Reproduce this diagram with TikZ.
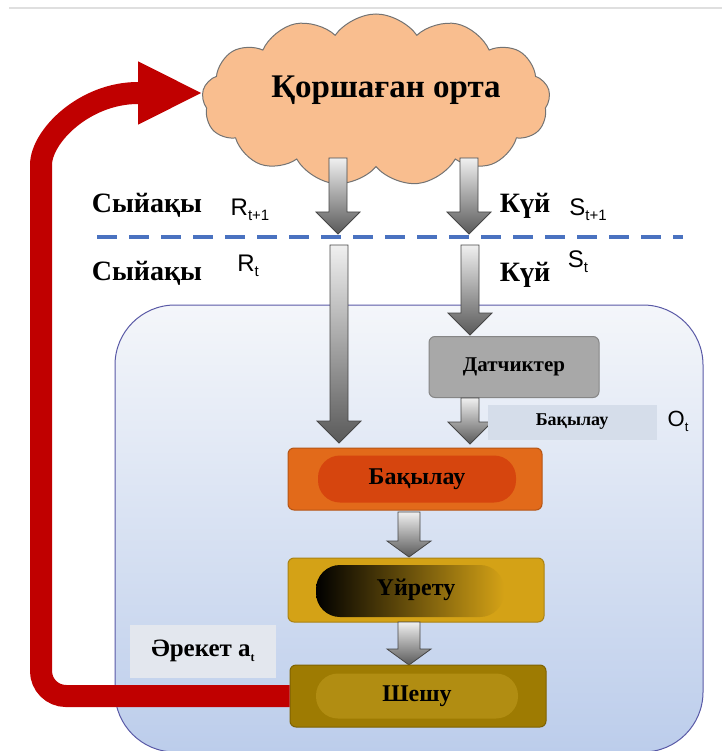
\documentclass[tikz,border=0pt]{standalone}
\usepackage{fontspec}
\setmainfont{Liberation Serif}
\newfontfamily\sansf{Liberation Sans}
\usetikzlibrary{shapes.symbols,arrows.meta}
\definecolor{cloudfill}{HTML}{F9BE8F}
\definecolor{dashblue}{HTML}{4A72C0}
\definecolor{actred}{HTML}{C00000}
\definecolor{sensfill}{HTML}{A8A8A8}
\definecolor{obsfill}{HTML}{D5DDEA}
\definecolor{actfill}{HTML}{E3E7EE}
\definecolor{bakouter}{HTML}{E26A1A}
\definecolor{bakinner}{HTML}{D6450E}
\definecolor{uyrouter}{HTML}{D4A216}
\definecolor{sheouter}{HTML}{9E7B02}
\definecolor{sheinner}{HTML}{B18D12}
\definecolor{agenttop}{HTML}{F4F6FA}
\definecolor{agentbot}{HTML}{BCCDEB}
\newcommand{\fsz}[1]{\fontsize{#1}{#1}\selectfont}
\newcommand{\sym}[2]{{\sansf\fsz{24}#1\raisebox{-5pt}{\fsz{15}#2}}}
% block arrow pointing down: x, top, tip, shaft half, head half, head length
\newcommand{\blockdown}[6]{%
  \shade[blockarr] ({#1-#4},#2) -- ({#1+#4},#2) -- ({#1+#4},{#3-#6}) -- ({#1+#5},{#3-#6})
    -- (#1,#3) -- ({#1-#5},{#3-#6}) -- ({#1-#4},{#3-#6}) -- cycle;}
\begin{document}
\begin{tikzpicture}[x=1pt,y=-1pt,
  blockarr/.style={top color=gray!12,bottom color=gray!70!black,draw=gray!55!black,line width=.8},
  box/.style={rounded corners=6,draw=#1!80!black,fill=#1,line width=1},
  pill/.style={rounded corners=22,fill=#1},
  word/.style={font=\bfseries\fsz{28}},
  boxtext/.style={font=\bfseries\fsz{24}}]
\useasboundingbox (0,0) rectangle (722,751);
\draw[gray!25,line width=1.5] (9,8) -- (722,8);
% agent
\shade[top color=agenttop,bottom color=agentbot,draw=gray!70!blue,line width=1,rounded corners=60]
  (115,305) rectangle (703,752);
% environment
\node[cloud,cloud puffs=13,cloud puff arc=110,aspect=2,draw=gray!90!black,fill=cloudfill,
  line width=1,minimum width=348,minimum height=172,inner sep=0] (env) at (376,100) {};
\node[font=\bfseries\fsz{33}] (envtext) at (386,90) {Қоршаған орта};
\blockdown{338}{158}{234}{9}{22}{22}
\blockdown{469}{158}{234}{9}{22}{22}
\node[word] (rew1) at (147,205) {Сыйақы};
\node (r1) at (250,210) {\sym{R}{t+1}};
\node[word] (st1) at (525,206) {Күй};
\node (s1) at (588,210) {\sym{S}{t+1}};
\draw[dashblue,line width=4.5,dash pattern=on 20 off 12] (97,237) -- (683,237);
\node[word] (rew2) at (147,273) {Сыйақы};
\node (r2) at (248,266) {\sym{R}{t}};
\node[word] (st2) at (525,275) {Күй};
\node (s2) at (578,262) {\sym{S}{t}};
\blockdown{339}{245}{443}{9}{22}{22}
\blockdown{470}{245}{335}{9}{22}{22}
% sensors and observation
\node[box=sensfill,minimum width=170,minimum height=61,font=\bfseries\fsz{21}] (sens) at (514,367) {Датчиктер};
\blockdown{470}{398}{444}{9}{22}{22}
\node[fill=obsfill,minimum width=169,minimum height=35,font=\bfseries\fsz{18}] (obs) at (572,422) {Бақылау};
\node (ot) at (678,421) {{\sansf\fsz{22}O\raisebox{-5pt}{\fsz{13}t}}};
% observe
\node[box=bakouter,minimum width=254,minimum height=62] (bak) at (415,479) {};
\node[pill=bakinner,minimum width=198,minimum height=47] (bakin) at (417,479) {};
\node[boxtext] at (bakin) {Бақылау};
\blockdown{409}{512}{557}{11}{22}{16}
% learn
\node[box=uyrouter,minimum width=256,minimum height=64] (uyr) at (416,590) {};
\shade[left color=black,right color=uyrouter,rounded corners=24] (316,565) rectangle (504,617);
\node[boxtext] at (uyr) {Үйрету};
\blockdown{409}{622}{665}{11}{22}{16}
% decide
\node[box=sheouter,minimum width=256,minimum height=62] (shesh) at (418,696) {};
\node[pill=sheinner,minimum width=202,minimum height=45] (shein) at (417,696) {};
\node[boxtext] at (shein) {Шешу};
\node[fill=actfill,minimum width=146,minimum height=53,font=\bfseries\fsz{25}] (act) at (203,651)
  {Әрекет a\raisebox{-5pt}{\fsz{12}t}};
% action back to environment
\coordinate (acttip) at (203,93);
\draw[actred,line width=22,-{Triangle[width=58pt,length=65pt]}] (shesh.west) [rounded corners=25] -- (41,696)
  -- (41,190) [sharp corners] arc[start angle=180,end angle=270,radius=97] -- (acttip);
\end{tikzpicture}
\end{document}
